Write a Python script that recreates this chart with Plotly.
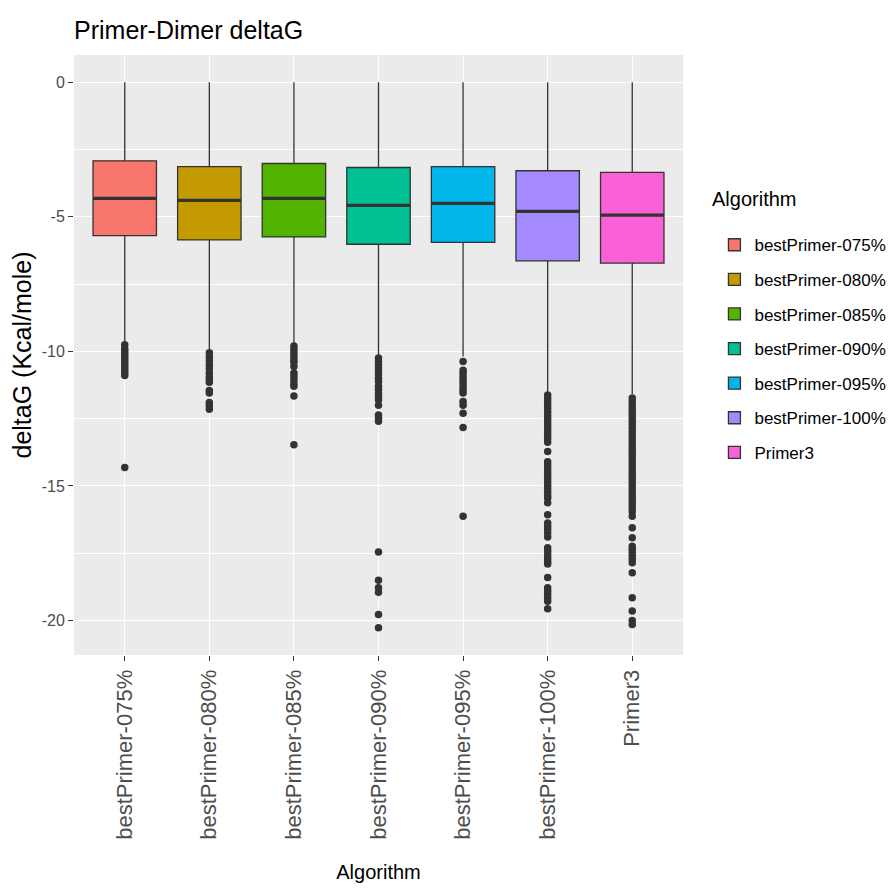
import plotly.graph_objects as go

# Algorithms compared and their box colours
algorithms = ["bestPrimer-075%", "bestPrimer-080%", "bestPrimer-085%",
              "bestPrimer-090%", "bestPrimer-095%", "bestPrimer-100%", "Primer3"]
colors = ["#F8766D", "#C49A00", "#53B400", "#00C094", "#00B6EB", "#A58AFF", "#FB61D7"]

# Box statistics of deltaG (Kcal/mole)
q1 = [-5.70, -5.86, -5.75, -6.02, -5.95, -6.64, -6.72]
median = [-4.32, -4.39, -4.32, -4.58, -4.50, -4.80, -4.94]
q3 = [-2.92, -3.14, -3.02, -3.17, -3.14, -3.29, -3.35]
lower_whisker = [-9.70, -9.97, -9.70, -10.13, -10.19, -11.49, -11.58]
upper_whisker = [0.0, 0.0, 0.0, 0.0, 0.0, 0.0, 0.0]

# Outliers below the lower whisker
outliers_075 = [-9.75, -9.9, -10.0, -10.1, -10.2, -10.3, -10.4, -10.5, -10.6, -10.7,
                -10.8, -10.9, -14.31]
outliers_080 = [-10.05, -10.2, -10.35, -10.5, -10.65, -10.8, -10.95, -11.05, -11.15,
                -11.45, -11.55, -11.9, -12.02, -12.15]
outliers_085 = [-9.8, -9.92, -10.05, -10.18, -10.3, -10.4, -10.56, -10.8, -10.92,
                -11.05, -11.2, -11.3, -11.66, -13.47]
outliers_090 = [-10.25, -10.38, -10.5, -10.62, -10.75, -10.88, -11.0, -11.12, -11.3,
                -11.42, -11.55, -11.68, -11.8, -12.0, -12.36, -12.48, -12.6, -17.45,
                -18.5, -18.78, -18.95, -19.78, -20.27]
outliers_095 = [-10.38, -10.7, -10.82, -10.95, -11.08, -11.2, -11.32, -11.45, -11.55,
                -11.86, -12.0, -12.3, -12.83, -16.13]
outliers_100 = [-11.62, -11.75, -11.88, -12.0, -12.12, -12.25, -12.38, -12.5, -12.62,
                -12.75, -12.88, -13.0, -13.12, -13.25, -13.38, -13.72, -14.1, -14.22,
                -14.35, -14.48, -14.6, -14.72, -14.85, -14.98, -15.1, -15.22, -15.35,
                -15.45, -15.62, -16.07, -16.38, -16.5, -16.62, -16.75, -16.9, -17.3,
                -17.42, -17.55, -17.68, -17.8, -17.9, -18.4, -18.78, -18.9, -19.02,
                -19.15, -19.28, -19.56]
outliers_primer3 = [-11.73, -11.85, -11.98, -12.1, -12.22, -12.35, -12.48, -12.6, -12.72,
                    -12.85, -12.98, -13.1, -13.22, -13.35, -13.48, -13.6, -13.72, -13.85,
                    -13.98, -14.1, -14.22, -14.35, -14.48, -14.6, -14.72, -14.85, -14.98,
                    -15.1, -15.22, -15.35, -15.48, -15.6, -15.72, -15.85, -15.95, -16.13,
                    -16.55, -16.92, -17.24, -17.36, -17.48, -17.6, -17.72, -17.85, -18.22,
                    -19.15, -19.65, -20.0, -20.15]
outliers = [outliers_075, outliers_080, outliers_085, outliers_090,
            outliers_095, outliers_100, outliers_primer3]

y_ticks = [0, -5, -10, -15, -20]

BOX_WIDTH = 0.75
INK = "#333333"
SANS = "Liberation Sans, Arial, sans-serif"

fig = go.Figure()

for i, name in enumerate(algorithms):
    fig.add_trace(go.Box(
        x=[i], q1=[q1[i]], median=[median[i]], q3=[q3[i]],
        lowerfence=[lower_whisker[i]], upperfence=[upper_whisker[i]],
        name=name, legendgroup=name, width=BOX_WIDTH, whiskerwidth=0,
        fillcolor=colors[i], line=dict(color=INK, width=1.3),
        boxpoints=False, hoverinfo="skip",
    ))
    # thicker median bar
    fig.add_trace(go.Scatter(
        x=[i - BOX_WIDTH / 2, i + BOX_WIDTH / 2], y=[median[i], median[i]],
        mode="lines", line=dict(color=INK, width=3.2),
        showlegend=False, hoverinfo="skip",
    ))
    fig.add_trace(go.Scatter(
        x=[i] * len(outliers[i]), y=outliers[i], mode="markers",
        marker=dict(color=INK, size=7.5, line=dict(width=0)),
        showlegend=False, hoverinfo="skip",
    ))

fig.update_layout(
    width=896, height=892,
    margin=dict(l=74, r=213, t=55, b=237, autoexpand=False),
    paper_bgcolor="white", plot_bgcolor="#EBEBEB",
    boxmode="overlay",
    title=dict(text="Primer-Dimer deltaG", x=74 / 896, xanchor="left",
               y=1 - 30 / 892, yanchor="middle",
               font=dict(family=SANS, size=25, color="black")),
    legend=dict(
        font=dict(family=SANS, size=17, color="black"),
        x=1.0516, xanchor="left", y=0.713, yanchor="top",
        traceorder="grouped", tracegroupgap=9.5,
        bgcolor="white", itemwidth=30,
    ),
    annotations=[dict(
        text="Algorithm", xref="paper", yref="paper",
        x=1.044, xanchor="left", y=(655 - 199) / 600, yanchor="middle",
        showarrow=False, font=dict(family=SANS, size=20, color="black"),
    )],
    xaxis=dict(
        range=[-0.6, len(algorithms) - 0.4],
        tickmode="array", tickvals=list(range(len(algorithms))), ticktext=algorithms,
        tickangle=-90, tickfont=dict(family=SANS, size=22, color="#4D4D4D"),
        ticks="outside", ticklen=5, tickwidth=1.1, tickcolor=INK,
        showgrid=True, gridcolor="white", gridwidth=1.3,
        zeroline=False, showline=False,
        title=dict(text="Algorithm", standoff=26,
                   font=dict(family=SANS, size=20, color="black")),
    ),
    yaxis=dict(
        range=[-21.28, 1.01],
        tickmode="array", tickvals=y_ticks, ticktext=[str(v) for v in y_ticks],
        tickfont=dict(family=SANS, size=16, color="#4D4D4D"),
        ticks="outside", ticklen=5, tickwidth=1.1, tickcolor=INK,
        showgrid=True, gridcolor="white", gridwidth=1.3,
        minor=dict(tickmode="array", tickvals=[-2.5, -7.5, -12.5, -17.5],
                   showgrid=True, gridcolor="white", gridwidth=0.6, ticks=""),
        zeroline=False, showline=False,
        title=dict(text="deltaG (Kcal/mole)", standoff=2,
                   font=dict(family=SANS, size=25, color="black")),
    ),
)

fig.write_html("out.html")
